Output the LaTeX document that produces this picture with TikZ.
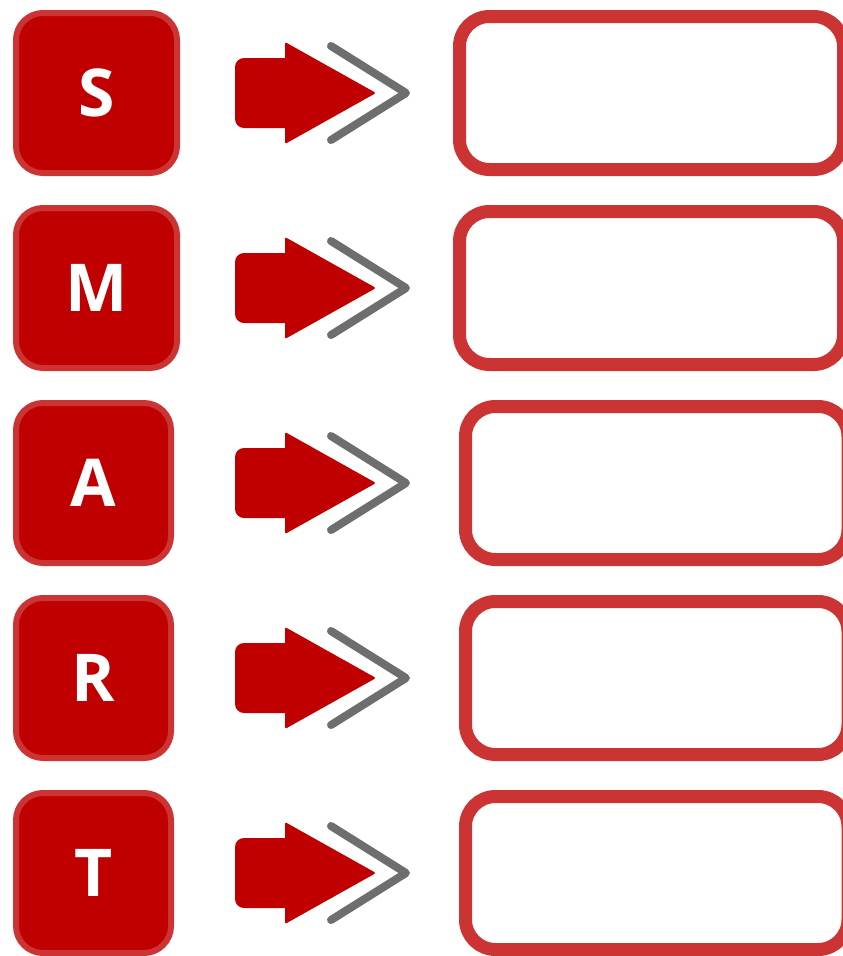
\documentclass[tikz,border=0pt]{standalone}
\usepackage{fontspec}
\setmainfont{Open Sans}
\definecolor{dred}{HTML}{C00000}
\definecolor{lred}{HTML}{CC3333}
\definecolor{cgray}{HTML}{6E6E6E}
\begin{document}
\begin{tikzpicture}[x=1pt,y=-1pt,
 letterbox/.style={draw=lred, fill=dred, line width=6pt, rounded corners=27pt, inner sep=0pt, minimum height=160pt, text=white, font=\fontsize{66}{66}\selectfont\bfseries},
 textbox/.style={draw=lred, fill=white, line width=13pt, rounded corners=30pt, minimum height=153pt, inner sep=0pt},
 blockarrow/.style={fill=dred},
 chev/.style={draw=cgray, line width=8pt, line cap=round, line join=round}]
\useasboundingbox (0,0) rectangle (843,956);
\begin{scope}
\clip (0,0) rectangle (843,956);
\foreach \L/\i/\lx/\lw/\rx/\rw in {S/1/96.5/161/651.5/384, M/2/96.5/161/651.5/384, A/3/93.5/155/656.75/382.5, R/4/93.5/155/656.75/382.5, T/5/93.5/155/656.75/382.5} {
 \pgfmathsetmacro\yc{93+195*(\i-1)}
 \node[letterbox, minimum width=\lw pt] (L\i) at (\lx,\yc) {\L};
 \node[textbox, minimum width=\rw pt] (B\i) at (\rx,\yc) {};
 \fill[blockarrow] (260,\yc-35) [rounded corners=9pt] -- (235,\yc-35) -- (235,\yc+35) -- (260,\yc+35) [sharp corners] -- (285,\yc+35) [rounded corners=2pt] -- (285,\yc+51) -- (376,\yc) -- (285,\yc-51) [sharp corners] -- (285,\yc-35) -- cycle;
 \draw[chev] (331,\yc-47) -- (406,\yc) -- (331,\yc+47);
}
\end{scope}
\end{tikzpicture}
\end{document}
